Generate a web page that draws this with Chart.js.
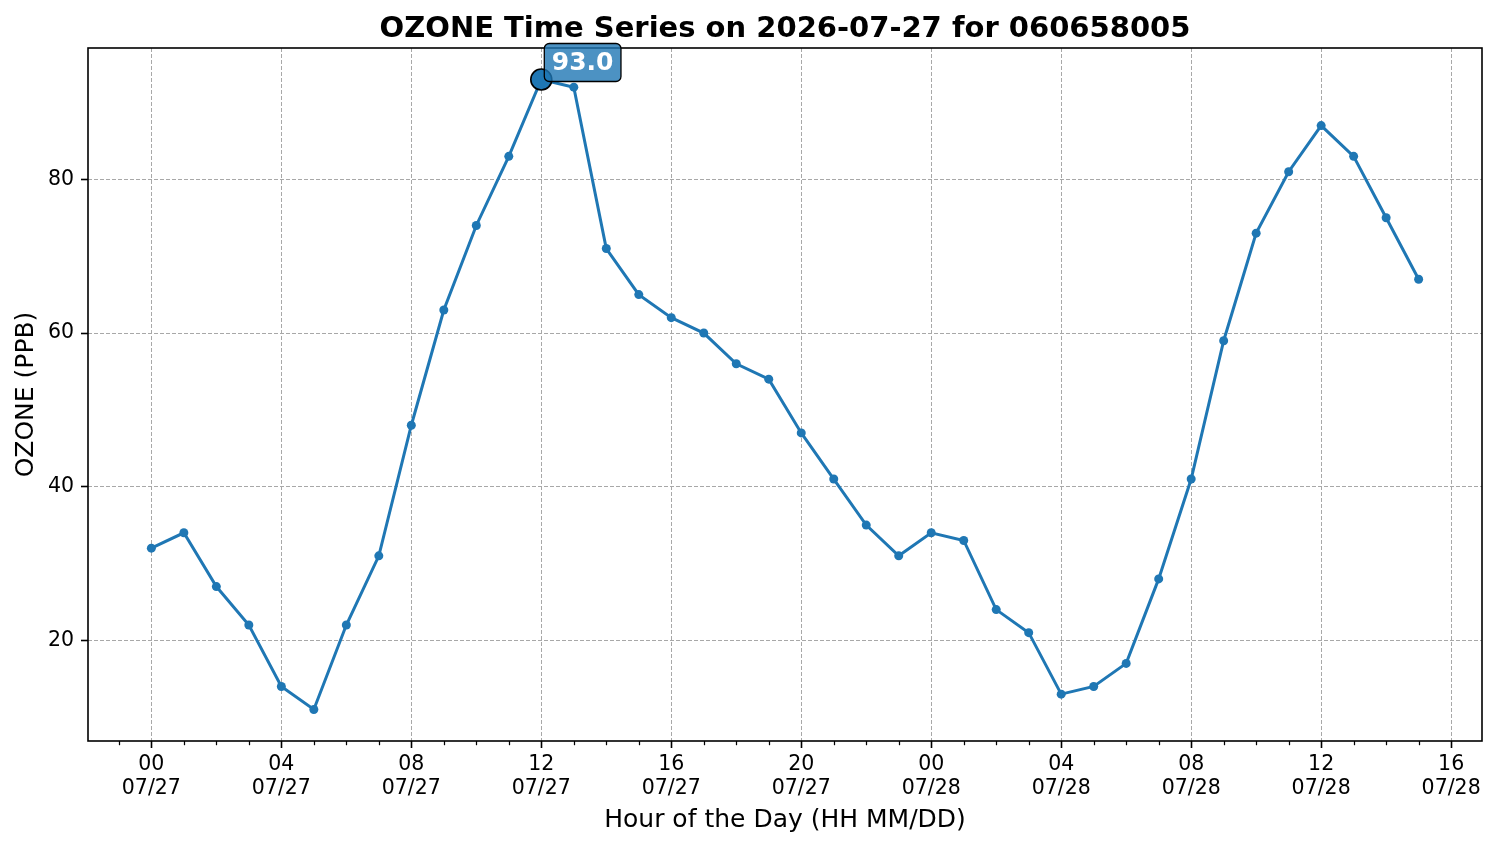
<!DOCTYPE html>
<html>
<head>
<meta charset="utf-8">
<title>OZONE Time Series</title>
<script src="https://cdn.jsdelivr.net/npm/chart.js@4.4.1/dist/chart.umd.min.js"></script>
<style>
  html, body { margin: 0; padding: 0; background: #fff; }
  canvas { display: block; }
</style>
</head>
<body>
<canvas id="ozone" width="1498" height="847"></canvas>
<script>
const titleText = 'OZONE Time Series on 2026-07-27 for 060658005';

// hours since 00:00 on 07/27
const hours = [0, 1, 2, 3, 4, 5, 6, 7, 8, 9, 10, 11, 12, 13, 14, 15, 16, 17, 18, 19,
               20, 21, 22, 23, 24, 25, 26, 27, 28, 29, 30, 31, 32, 33, 34, 35, 36, 37, 38, 39];
const ozone = [32, 34, 27, 22, 14, 11, 22, 31, 48, 63, 74, 83, 93, 92, 71, 65, 62, 60, 56, 54,
               47, 41, 35, 31, 34, 33, 24, 21, 13, 14, 17, 28, 41, 59, 73, 81, 87, 83, 75, 67];

const tickHours = [0, 4, 8, 12, 16, 20, 24, 28, 32, 36, 40];
const tickHH = ['00', '04', '08', '12', '16', '20', '00', '04', '08', '12', '16'];
const tickDates = ['07/27', '07/27', '07/27', '07/27', '07/27', '07/27',
                   '07/28', '07/28', '07/28', '07/28', '07/28'];
const yTicks = [20, 40, 60, 80];

const peakHour = 12;
const peakValue = 93;

const blue = '#1f77b4';
const font = '"DejaVu Sans", Verdana, sans-serif';

// matplotlib style 5% margins
const xPad = (hours[hours.length - 1] - hours[0]) * 0.05;
const yPad = (Math.max(...ozone) - Math.min(...ozone)) * 0.05;

const decor = {
  id: 'decor',
  afterDatasetsDraw(chart) {
    const { ctx, chartArea: a, scales: { x, y } } = chart;
    ctx.save();
    // frame
    ctx.strokeStyle = '#000';
    ctx.lineWidth = 1.6;
    ctx.strokeRect(a.left, a.top, a.right - a.left, a.bottom - a.top);

    // minor ticks every hour
    ctx.lineWidth = 1.25;
    for (let h = Math.ceil(x.min); h <= Math.floor(x.max); h++) {
      if (tickHours.includes(h)) continue;
      const px = Math.round(x.getPixelForValue(h)) + 0.5;
      ctx.beginPath();
      ctx.moveTo(px, a.bottom);
      ctx.lineTo(px, a.bottom + 4.2);
      ctx.stroke();
    }

    // highlighted max
    const px = x.getPixelForValue(peakHour);
    const py = y.getPixelForValue(peakValue);
    ctx.beginPath();
    ctx.arc(px, py, 10.5, 0, Math.PI * 2);
    ctx.fillStyle = blue;
    ctx.fill();
    ctx.lineWidth = 1.6;
    ctx.strokeStyle = '#000';
    ctx.stroke();

    const label = peakValue.toFixed(1);
    ctx.font = 'bold 25px ' + font;
    const tw = ctx.measureText(label).width;
    const bx = px + 3, by = py - 36, bw = tw + 15, bh = 38;
    ctx.beginPath();
    ctx.roundRect(bx, by, bw, bh, 5);
    ctx.fillStyle = 'rgba(31,119,180,0.8)';
    ctx.fill();
    ctx.lineWidth = 1.3;
    ctx.strokeStyle = '#000';
    ctx.stroke();
    ctx.fillStyle = '#fff';
    ctx.textAlign = 'center';
    ctx.textBaseline = 'middle';
    ctx.fillText(label, bx + bw / 2, by + bh / 2 + 1);
    ctx.restore();
  },
  afterDraw(chart) {
    const { ctx, chartArea: a } = chart;
    ctx.save();
    ctx.font = 'bold 29px ' + font;
    ctx.fillStyle = '#000';
    ctx.textAlign = 'center';
    ctx.textBaseline = 'middle';
    ctx.fillText(titleText, (a.left + a.right) / 2, 29);
    ctx.restore();
  }
};

new Chart(document.getElementById('ozone'), {
  type: 'line',
  data: {
    datasets: [{
      data: hours.map((h, i) => ({ x: h, y: ozone[i] })),
      borderColor: blue,
      backgroundColor: blue,
      borderWidth: 3,
      pointRadius: 4.5,
      pointBorderWidth: 0,
      pointBackgroundColor: blue,
      tension: 0
    }]
  },
  options: {
    responsive: false,
    animation: false,
    layout: { padding: { top: 48, right: 16, bottom: 0, left: 0 } },
    plugins: {
      legend: { display: false },
      tooltip: { enabled: false },
      title: { display: false }
    },
    scales: {
      x: {
        type: 'linear',
        min: hours[0] - xPad,
        max: hours[hours.length - 1] + xPad,
        afterBuildTicks: s => { s.ticks = tickHours.map(v => ({ value: v })); },
        afterFit: s => { s.height = 106; },
        border: { display: false, dash: [4, 2] },
        grid: {
          color: '#a8a8a8',
          lineWidth: 1,
          tickColor: '#000',
          tickWidth: 1.6,
          tickLength: 7,
          tickBorderDash: []
        },
        ticks: {
          autoSkip: false,
          maxRotation: 0,
          padding: 5,
          color: '#000',
          font: { family: font, size: 20.5, lineHeight: 1.17 },
          callback: v => {
            const i = tickHours.indexOf(v);
            return i >= 0 ? [tickHH[i], tickDates[i]] : '';
          }
        },
        title: {
          display: true,
          text: 'Hour of the Day (HH MM/DD)',
          color: '#000',
          font: { family: font, size: 25, lineHeight: 1.2 },
          padding: { top: 12, bottom: 12 }
        }
      },
      y: {
        min: Math.min(...ozone) - yPad,
        max: Math.max(...ozone) + yPad,
        afterBuildTicks: s => { s.ticks = yTicks.map(v => ({ value: v })); },
        afterFit: s => { s.width = 88; },
        border: { display: false, dash: [4, 2] },
        grid: {
          color: '#a8a8a8',
          lineWidth: 1,
          tickColor: '#000',
          tickWidth: 1.6,
          tickLength: 7,
          tickBorderDash: []
        },
        ticks: {
          padding: 7,
          color: '#000',
          font: { family: font, size: 20.5 }
        },
        title: {
          display: true,
          text: 'OZONE (PPB)',
          color: '#000',
          font: { family: font, size: 25, lineHeight: 1.2 },
          padding: { top: 11, bottom: 11 }
        }
      }
    }
  },
  plugins: [decor]
});
</script>
</body>
</html>
